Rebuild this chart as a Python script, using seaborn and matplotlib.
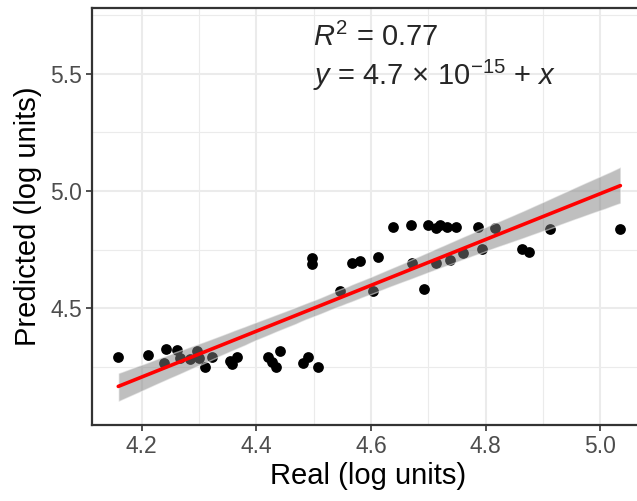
import numpy as np
import pandas as pd
import matplotlib
matplotlib.use('Agg')
import matplotlib.pyplot as plt
import seaborn as sns
from matplotlib.ticker import MultipleLocator

# values
real = [4.159, 4.211, 4.242, 4.239, 4.262, 4.267, 4.284, 4.296, 4.300, 4.310,
        4.322, 4.354, 4.366, 4.357, 4.420, 4.427, 4.435, 4.441, 4.482, 4.490,
        4.508, 4.497, 4.497, 4.546, 4.566, 4.581, 4.603, 4.612, 4.638, 4.669,
        4.672, 4.692, 4.700, 4.714, 4.714, 4.720, 4.732, 4.738, 4.749, 4.760,
        4.787, 4.794, 4.817, 4.863, 4.875, 4.913, 5.035]
predicted = [4.292, 4.300, 4.326, 4.266, 4.320, 4.288, 4.283, 4.319, 4.287, 4.248,
             4.293, 4.275, 4.293, 4.262, 4.292, 4.270, 4.248, 4.319, 4.265, 4.292,
             4.248, 4.714, 4.689, 4.573, 4.693, 4.701, 4.573, 4.718, 4.846, 4.855,
             4.694, 4.581, 4.855, 4.841, 4.692, 4.855, 4.846, 4.706, 4.846, 4.734,
             4.848, 4.751, 4.841, 4.751, 4.741, 4.837, 4.837]
r2_label = r'$\mathit{R}^2$ = 0.77'
eq_label = r'$\mathit{y}$ = 4.7$\,\times\,$10$^{-15}$ + $\mathit{x}$'

df = pd.DataFrame({'real': real, 'predicted': predicted})

sns.set_style('white')
plt.rcParams['font.family'] = ['Liberation Sans', 'DejaVu Sans']
plt.rcParams['mathtext.fontset'] = 'custom'
plt.rcParams['mathtext.rm'] = 'Liberation Sans'
plt.rcParams['mathtext.it'] = 'Liberation Sans:italic'

fig = plt.figure(figsize=(6.37, 5.01), dpi=100)
ax = fig.add_axes([0.144, 0.1517, 0.8686, 0.8323])

sns.scatterplot(x='real', y='predicted', data=df, ax=ax, color='black',
                s=60, linewidth=0, zorder=2)
sns.regplot(x='real', y='predicted', data=df, ax=ax, scatter=False,
            color='red', line_kws={'linewidth': 2.6, 'zorder': 4})
# grey confidence band like ggplot
for c in ax.collections[1:]:
    c.set_facecolor((0.5, 0.5, 0.5))
    c.set_alpha(0.5)
    c.set_zorder(3)

ax.set_xlim(4.1127, 5.078)
ax.set_ylim(4.0017, 5.781)
ax.xaxis.set_major_locator(MultipleLocator(0.2))
ax.xaxis.set_minor_locator(MultipleLocator(0.1))
ax.yaxis.set_major_locator(MultipleLocator(0.5))
ax.yaxis.set_minor_locator(MultipleLocator(0.25))
ax.grid(True, which='major', color='#EBEBEB', linewidth=1.5)
ax.grid(True, which='minor', color='#EBEBEB', linewidth=0.8)
ax.set_axisbelow(True)
for sp in ax.spines.values():
    sp.set_color('#333333')
    sp.set_linewidth(1.6)
ax.tick_params(which='major', length=4, width=1.2, color='#333333',
               labelsize=16.5, labelcolor='#4D4D4D', bottom=True, left=True, pad=3)
ax.tick_params(which='minor', length=0)

ax.set_xlabel('Real (log units)', fontsize=21, color='black', labelpad=3)
ax.set_ylabel('Predicted (log units)', fontsize=21, color='black', labelpad=6)

ax.text(0.40, 0.91, r2_label, transform=ax.transAxes, fontsize=21, va='baseline')
ax.text(0.40, 0.815, eq_label, transform=ax.transAxes, fontsize=21, va='baseline')

fig.savefig('out.png', dpi=100)
